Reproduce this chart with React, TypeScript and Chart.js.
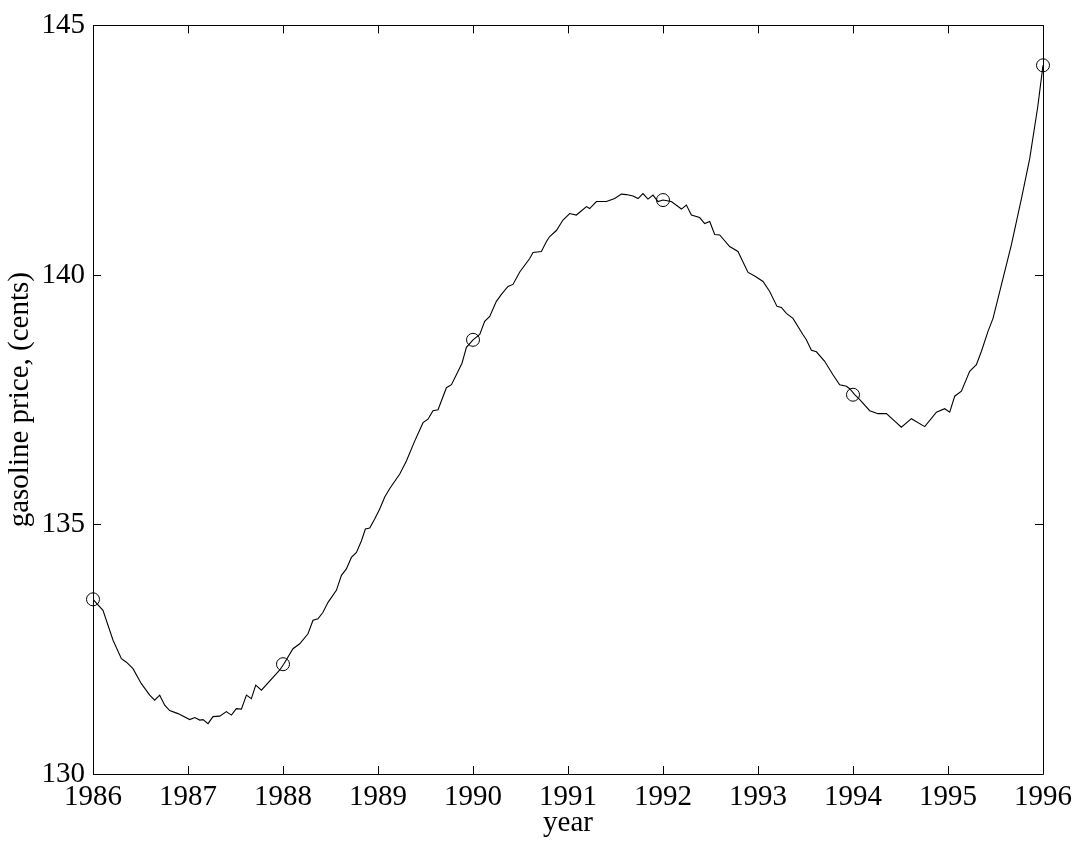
import React, { useEffect, useRef } from "react";
import { Chart, registerables } from "chart.js";

Chart.register(...registerables);

// Observed gasoline price series (year, cents)
const priceYears: number[] = [
  1986.0, 1986.105, 1986.211, 1986.299, 1986.352, 1986.421, 1986.509, 1986.597, 1986.649, 1986.702,
  1986.755, 1986.807, 1986.895, 1987.018, 1987.071, 1987.124, 1987.158, 1987.211, 1987.263, 1987.334,
  1987.404, 1987.457, 1987.509, 1987.562, 1987.615, 1987.667, 1987.713, 1987.773, 1987.964, 1988.007,
  1988.105, 1988.176, 1988.263, 1988.316, 1988.368, 1988.421, 1988.474, 1988.562, 1988.615, 1988.667,
  1988.72, 1988.773, 1988.825, 1988.867, 1988.913, 1988.965, 1989.018, 1989.071, 1989.124, 1989.229,
  1989.299, 1989.386, 1989.474, 1989.526, 1989.579, 1989.632, 1989.72, 1989.773, 1989.825, 1989.884,
  1989.931, 1990.0, 1990.071, 1990.123, 1990.176, 1990.246, 1990.299, 1990.368, 1990.421, 1990.492,
  1990.597, 1990.632, 1990.72, 1990.773, 1990.807, 1990.878, 1990.947, 1991.018, 1991.088, 1991.194,
  1991.228, 1991.299, 1991.404, 1991.492, 1991.562, 1991.615, 1991.684, 1991.737, 1991.789, 1991.842,
  1991.895, 1991.947, 1992.0, 1992.088, 1992.194, 1992.246, 1992.299, 1992.386, 1992.439, 1992.492,
  1992.544, 1992.597, 1992.702, 1992.789, 1992.895, 1992.965, 1993.053, 1993.123, 1993.2, 1993.246,
  1993.299, 1993.368, 1993.474, 1993.509, 1993.562, 1993.615, 1993.702, 1993.789, 1993.86, 1993.931,
  1993.965, 1994.018, 1994.071, 1994.176, 1994.263, 1994.352, 1994.439, 1994.509, 1994.615, 1994.755,
  1994.878, 1994.965, 1995.018, 1995.071, 1995.141, 1995.228, 1995.299, 1995.352, 1995.421, 1995.474,
  1995.562, 1995.667, 1995.773, 1995.86, 1995.944, 1996.0,
];

const priceValues: number[] = [
  133.5, 133.28, 132.68, 132.31, 132.24, 132.11, 131.81, 131.58, 131.48, 131.58,
  131.38, 131.27, 131.21, 131.09, 131.13, 131.08, 131.09, 131.01, 131.15, 131.16,
  131.25, 131.18, 131.31, 131.3, 131.58, 131.51, 131.78, 131.68, 132.08, 132.2,
  132.51, 132.61, 132.81, 133.08, 133.11, 133.24, 133.44, 133.68, 133.98, 134.11,
  134.34, 134.44, 134.67, 134.91, 134.93, 135.11, 135.31, 135.55, 135.72, 136.01,
  136.27, 136.67, 137.04, 137.11, 137.28, 137.3, 137.74, 137.8, 138.0, 138.23,
  138.55, 138.7, 138.81, 139.07, 139.17, 139.47, 139.61, 139.77, 139.81, 140.06,
  140.33, 140.45, 140.47, 140.67, 140.77, 140.89, 141.1, 141.23, 141.2, 141.37,
  141.33, 141.47, 141.47, 141.53, 141.62, 141.61, 141.58, 141.53, 141.63, 141.52,
  141.6, 141.47, 141.5, 141.47, 141.32, 141.4, 141.2, 141.15, 141.03, 141.07,
  140.81, 140.8, 140.57, 140.47, 140.05, 139.98, 139.87, 139.67, 139.37, 139.35,
  139.23, 139.13, 138.8, 138.7, 138.49, 138.46, 138.27, 138.0, 137.8, 137.77,
  137.72, 137.6, 137.5, 137.28, 137.22, 137.22, 137.07, 136.95, 137.12, 136.96,
  137.25, 137.32, 137.25, 137.57, 137.67, 138.07, 138.2, 138.47, 138.87, 139.13,
  139.8, 140.6, 141.53, 142.33, 143.36, 144.2,
];

// Knot points marked with circles
const knotYears: number[] = [1986, 1988, 1990, 1992, 1994, 1996];
const knotValues: number[] = [133.5, 132.2, 138.7, 141.5, 137.6, 144.2];

// Axis settings
const xMin = 1986;
const xMax = 1996;
const yMin = 130;
const yMax = 145;
const xLabel = "year";
const yLabel = "gasoline price, (cents)";

const FONT = "'Liberation Serif', 'Times New Roman', serif";
const FSIZE = 29;

const framePlugin = {
  id: "frameTicks",
  afterDatasetsDraw(chart: any) {
    const { ctx, chartArea, scales } = chart;
    const { left, right, top, bottom } = chartArea;
    const L = 8;
    ctx.save();
    ctx.strokeStyle = "#000";
    ctx.lineWidth = 1;
    ctx.beginPath();
    ctx.rect(Math.round(left) + 0.5, Math.round(top) + 0.5, Math.round(right) - Math.round(left), Math.round(bottom) - Math.round(top));
    ctx.stroke();
    ctx.beginPath();
    scales.x.ticks.forEach((t: any) => {
      const px = Math.round(scales.x.getPixelForValue(t.value)) + 0.5;
      ctx.moveTo(px, bottom);
      ctx.lineTo(px, bottom - L);
      ctx.moveTo(px, top);
      ctx.lineTo(px, top + L);
    });
    scales.y.ticks.forEach((t: any) => {
      const py = Math.round(scales.y.getPixelForValue(t.value)) + 0.5;
      ctx.moveTo(left, py);
      ctx.lineTo(left + L, py);
      ctx.moveTo(right, py);
      ctx.lineTo(right - L, py);
    });
    ctx.stroke();
    ctx.restore();
  },
};

export default function App() {
  const ref = useRef<HTMLCanvasElement | null>(null);

  useEffect(() => {
    if (!ref.current) return;
    const chart = new Chart(ref.current, {
      type: "line",
      data: {
        datasets: [
          {
            data: priceYears.map((x, i) => ({ x, y: priceValues[i] })),
            borderColor: "#000",
            borderWidth: 1.1,
            pointRadius: 0,
            tension: 0,
            fill: false,
          },
          {
            data: knotYears.map((x, i) => ({ x, y: knotValues[i] })),
            showLine: false,
            pointRadius: 6.5,
            pointBorderWidth: 1,
            pointBorderColor: "#000",
            pointBackgroundColor: "rgba(0,0,0,0)",
            borderColor: "#000",
            clip: false as any,
          },
        ],
      },
      options: {
        responsive: false,
        animation: false,
        devicePixelRatio: 1,
        layout: { padding: { top: 23, right: 41, left: 0, bottom: 0 } },
        plugins: { legend: { display: false }, tooltip: { enabled: false } },
        scales: {
          x: {
            type: "linear",
            min: xMin,
            max: xMax,
            grid: { display: false, drawTicks: false },
            border: { display: false },
            ticks: {
              stepSize: 1,
              color: "#000",
              padding: 6,
              maxRotation: 0,
              font: { family: FONT, size: FSIZE },
              callback: (v: any) => String(v),
            },
            title: {
              display: true,
              text: xLabel,
              color: "#000",
              font: { family: FONT, size: FSIZE },
              padding: { top: 0, bottom: 7 },
            },
            afterFit: (s: any) => {
              s.height = 74;
            },
          },
          y: {
            type: "linear",
            min: yMin,
            max: yMax,
            grid: { display: false, drawTicks: false },
            border: { display: false },
            ticks: {
              stepSize: 5,
              color: "#000",
              padding: 8,
              font: { family: FONT, size: FSIZE },
              callback: (v: any) => String(v),
            },
            title: {
              display: true,
              text: yLabel,
              color: "#000",
              font: { family: FONT, size: FSIZE },
              padding: { top: 3, bottom: 0 },
            },
            afterFit: (s: any) => {
              s.width = 93;
            },
          },
        },
      },
      plugins: [framePlugin],
    });
    return () => chart.destroy();
  }, []);

  return (
    <canvas
      ref={ref}
      width={1084}
      height={848}
      style={{ position: "fixed", left: 0, top: 0, width: 1084, height: 848, background: "#fff" }}
    />
  );
}
